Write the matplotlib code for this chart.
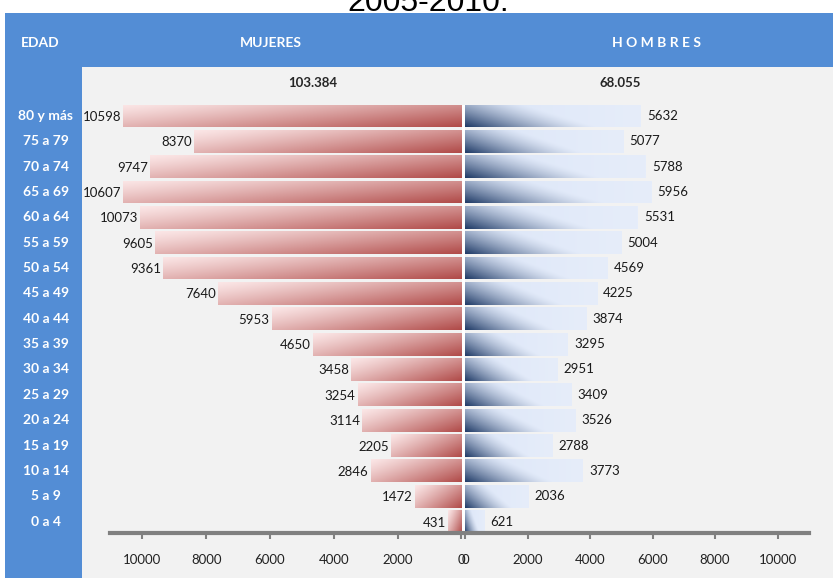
import matplotlib.pyplot as plt
import numpy as np
from matplotlib.patches import Rectangle
from matplotlib.transforms import blended_transform_factory
from matplotlib.colors import to_rgb

plt.rcParams['font.family'] = ['Lato', 'DejaVu Sans']

# datos (de 0 a 4 hasta 80 y más)
edades = ['0 a 4', '5 a 9', '10 a 14', '15 a 19', '20 a 24', '25 a 29', '30 a 34',
          '35 a 39', '40 a 44', '45 a 49', '50 a 54', '55 a 59', '60 a 64',
          '65 a 69', '70 a 74', '75 a 79', '80 y más']
mujeres = [431, 1472, 2846, 2205, 3114, 3254, 3458, 4650, 5953, 7640, 9361,
           9605, 10073, 10607, 9747, 8370, 10598]
hombres = [621, 2036, 3773, 2788, 3526, 3409, 2951, 3295, 3874, 4225, 4569,
           5004, 5531, 5956, 5788, 5077, 5632]
ticks = [0, 2000, 4000, 6000, 8000, 10000]

W, H = 833, 578
AZUL = '#538DD5'
GRIS = '#F2F2F2'

fig = plt.figure(figsize=(W / 100, H / 100), dpi=100)


def caja(x0, y0, x1, y1, color):
    fig.add_artist(Rectangle((x0 / W, 1 - y1 / H), (x1 - x0) / W, (y1 - y0) / H,
                             transform=fig.transFigure, facecolor=color,
                             edgecolor='none', zorder=0))


# fondo tipo tabla de Excel
caja(82, 67, W, H, GRIS)
caja(5, 13, W, 67, AZUL)
caja(5, 13, 82, H, AZUL)

fig.text(428 / W, 1 - 11 / H, '2005-2010.', ha='center', va='baseline',
         fontsize=23, family='Liberation Sans', color='black')

hdr = dict(color='white', fontweight='bold', fontsize=10, ha='center', va='center')
fig.text(40 / W, 1 - 43 / H, 'EDAD', **hdr)
fig.text(271 / W, 1 - 43 / H, 'MUJERES', **hdr)
fig.text(657 / W, 1 - 43 / H, 'H O M B R E S', **hdr)

tot_m = f'{sum(mujeres):,}'.replace(',', '.')
tot_h = f'{sum(hombres):,}'.replace(',', '.')
fig.text(313 / W, 1 - 83 / H, tot_m, fontsize=9.5, fontweight='bold',
         color='#262626', ha='center', va='center')
fig.text(620 / W, 1 - 83 / H, tot_h, fontsize=9.5, fontweight='bold',
         color='#262626', ha='center', va='center')

bottom, top = 533, 104.5
axL = fig.add_axes([110.5 / W, 1 - bottom / H, 351 / W, (bottom - top) / H])
axR = fig.add_axes([465 / W, 1 - bottom / H, 343.75 / W, (bottom - top) / H])

# hueco blanco entre ambos lados
caja(461.5, top, 465, bottom, 'white')

y = np.arange(len(edades))
alto = 0.9

# degradados
n = 160
uu, vv = np.meshgrid(np.linspace(0, 1, n), np.linspace(0, 1, 30))
claro_r, osc_r = np.array(to_rgb('#FBE6E6')), np.array(to_rgb('#B04A48'))
inten = np.clip(0.6 * (1 - uu) + 0.4 * (1 - vv), 0, 1) ** 1.2
grad_m = claro_r + (osc_r - claro_r) * inten[..., None]

claro_b, osc_b = np.array(to_rgb('#DCE6F8')), np.array(to_rgb('#1F3A66'))
base = claro_b + (np.array(to_rgb('#E6EDFA')) - claro_b) * uu[..., None]
d = np.clip(1 - uu / 0.75 - vv * 0.55, 0, 1) ** 1.4
grad_h = base + (osc_b - base) * d[..., None]

barsL = axL.barh(y, mujeres, height=alto, color='none')
barsR = axR.barh(y, hombres, height=alto, color='none')

for ax, bars, grad in ((axL, barsL, grad_m), (axR, barsR, grad_h)):
    for p in bars:
        x0, y0 = p.get_x(), p.get_y()
        im = ax.imshow(grad, extent=(x0, x0 + p.get_width(), y0, y0 + p.get_height()),
                       origin='lower', aspect='auto', interpolation='bilinear', zorder=2)
        im.set_clip_path(p)

for i, v in enumerate(mujeres):
    axL.annotate(str(v), xy=(v, y[i]), xytext=(-2, -1), textcoords='offset pixels',
                 ha='right', va='center', fontsize=9.5, color='#1a1a1a')
for i, v in enumerate(hombres):
    axR.annotate(str(v), xy=(v, y[i]), xytext=(6, 0), textcoords='offset pixels',
                 ha='left', va='center', fontsize=9.5, color='#1a1a1a')

for ax in (axL, axR):
    ax.set_ylim(-alto / 2, len(edades) - 1 + alto / 2)
    ax.set_facecolor('none')
    for s in ('top', 'left', 'right'):
        ax.spines[s].set_visible(False)
    ax.spines['bottom'].set_color('#808080')
    ax.spines['bottom'].set_linewidth(3)
    ax.set_yticks([])
    ax.set_xticks(ticks)
    ax.tick_params(axis='x', direction='out', length=4, width=1.5, color='#808080',
                   pad=11, labelsize=9.5, labelcolor='#222222')

axL.set_xlim(11000, 0)
axR.set_xlim(0, 11000)

# etiquetas de edad en la columna azul
tr = blended_transform_factory(fig.transFigure, axL.transData)
for i, e in enumerate(edades):
    axL.text(46 / W, y[i], e, transform=tr, ha='center', va='center',
             color='white', fontweight='bold', fontsize=10, clip_on=False)

fig.savefig('out.png', dpi=100)
